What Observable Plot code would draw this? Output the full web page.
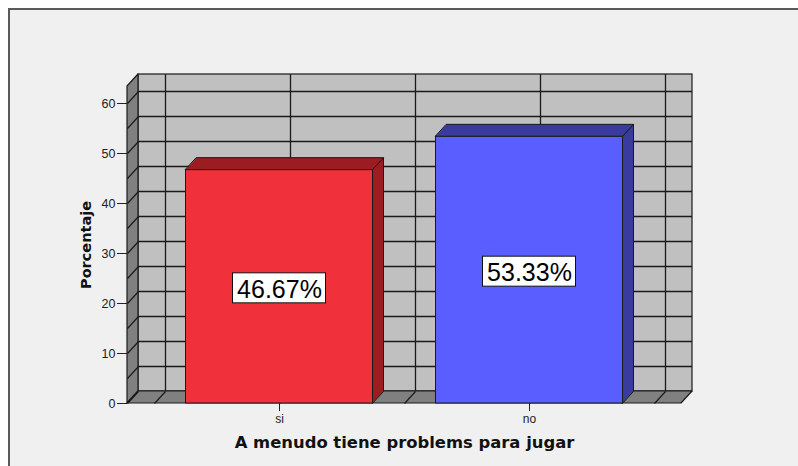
<!DOCTYPE html>
<html><head><meta charset="utf-8">
<script src="https://cdn.jsdelivr.net/npm/d3@7"></script>
<script src="https://cdn.jsdelivr.net/npm/@observablehq/plot@0.6"></script>
<style>
html,body{margin:0;padding:0;background:#fff;}
#wrap{position:relative;width:798px;height:466px;overflow:hidden;}
#panel{position:absolute;left:8px;top:8px;right:0;bottom:0;background:#f0f0f0;border-top:2px solid #5a5a5a;border-left:2px solid #5a5a5a;}
#chart{position:absolute;left:0;top:0;}
</style></head><body>
<div id="wrap"><div id="panel"></div><div id="chart"></div></div>
<script>
// ---- data ----
const categories = ["si", "no"];
const percentages = [46.67, 53.33];
const barColors = ["#f0303a", "#5b5eff"];
const barShades = ["#9b1d21", "#393c9e"];
const yTicks = [0, 10, 20, 30, 40, 50, 60];
const gridValues = [0, 5, 10, 15, 20, 25, 30, 35, 40, 45, 50, 55, 60];
const xTitle = "A menudo tiene problems para jugar";
const yTitle = "Porcentaje";

// ---- layout ----
const W = 798, H = 466;
const mL = 127, mR = 117, mT = 86, mB = 63;
const X0 = -0.608, X1 = 1.608;   // x domain (category index space)
const Y0 = 0, Y1 = 63.4;          // y domain
const kx = (W - mL - mR) / (X1 - X0);
const ky = (H - mT - mB) / (Y1 - Y0);
const DX = 11 / kx, DY = 12 / ky; // 3D depth in data units
const HW = 93.5 / kx;             // bar half width
const BW = 46.5 / kx, BH = 15 / ky; // label box half size
const vGrid = [-0.5, 0, 0.5, 1, 1.5];

const rows = categories.map((c, i) => ({i, c, v: percentages[i], color: barColors[i], shade: barShades[i]}));

function quad(key, fill, A, B, C, D) {
  return [
    {key, fill, x1: A[0], y1: A[1], x2: D[0], y2: D[1]},
    {key, fill, x1: B[0], y1: B[1], x2: C[0], y2: C[1]}
  ];
}
const walls = [
  ...quad("left", "#808080", [X0, 0], [X0, Y1], [X0 + DX, Y1 + DY], [X0 + DX, DY]),
  ...quad("floor", "#808080", [X0, 0], [X1, 0], [X1 + DX, DY], [X0 + DX, DY])
];
const sides = rows.flatMap(d => quad("side" + d.i, d.shade,
  [d.i + HW, 0], [d.i + HW, d.v], [d.i + HW + DX, d.v + DY], [d.i + HW + DX, DY]));
const tops = rows.flatMap(d => quad("top" + d.i, d.shade,
  [d.i - HW, d.v], [d.i + HW, d.v], [d.i + HW + DX, d.v + DY], [d.i - HW + DX, d.v + DY]));

const gridStroke = "#1a1a1a";
const chart = Plot.plot({
  width: W, height: H,
  marginLeft: mL, marginRight: mR, marginTop: mT, marginBottom: mB,
  x: {domain: [X0, X1]},
  y: {domain: [Y0, Y1]},
  color: {type: "identity"},
  style: {background: "transparent", fontFamily: "Liberation Sans, Arial, sans-serif", fontSize: "12px", overflow: "visible"},
  marks: [
    // back wall
    Plot.rect([0], {x1: X0 + DX, x2: X1 + DX, y1: DY, y2: Y1 + DY, fill: "#c0c0c0", stroke: gridStroke, strokeWidth: 1.2}),
    Plot.ruleY(gridValues, {y: v => v + DY, x1: X0 + DX, x2: X1 + DX, stroke: gridStroke, strokeWidth: 1.3}),
    Plot.ruleX(vGrid, {x: v => v + DX, y1: DY, y2: Y1 + DY, stroke: gridStroke, strokeWidth: 1.3}),
    // left wall and floor
    Plot.area(walls, {x1: "x1", y1: "y1", x2: "x2", y2: "y2", z: "key", fill: "fill", stroke: gridStroke, strokeWidth: 1.2}),
    Plot.link(gridValues, {x1: X0, y1: v => v, x2: X0 + DX, y2: v => v + DY, stroke: gridStroke, strokeWidth: 1.2}),
    Plot.link(vGrid, {x1: v => v, y1: 0, x2: v => v + DX, y2: DY, stroke: gridStroke, strokeWidth: 1.2}),
    // bars
    Plot.area(sides, {x1: "x1", y1: "y1", x2: "x2", y2: "y2", z: "key", fill: "fill", stroke: gridStroke, strokeWidth: 1}),
    Plot.area(tops, {x1: "x1", y1: "y1", x2: "x2", y2: "y2", z: "key", fill: "fill", stroke: gridStroke, strokeWidth: 1}),
    Plot.rect(rows, {x1: d => d.i - HW, x2: d => d.i + HW, y1: 0, y2: "v", fill: "color", stroke: gridStroke, strokeWidth: 1}),
    // value labels
    Plot.rect(rows, {x1: d => d.i - BW, x2: d => d.i + BW, y1: d => d.v / 2 - BH, y2: d => d.v / 2 + BH, fill: "white", stroke: "#111", strokeWidth: 1, dy: 1.5}),
    Plot.text(rows, {x: "i", y: d => d.v / 2, text: d => d.v.toFixed(2) + "%", fontSize: 25, fill: "#000", dy: 3}),
    // axes
    Plot.axisY(yTicks, {tickSize: 10, tickPadding: 2, fontSize: 12.5, color: "#222", label: null}),
    Plot.axisX([0, 1], {tickFormat: i => categories[i], tickSize: 8, tickPadding: 3, fontSize: 12, color: "#222", label: null}),
    // titles
    Plot.text([xTitle], {text: d => d, frameAnchor: "bottom", lineAnchor: "middle", textAnchor: "middle", dy: 39, fontFamily: "DejaVu Sans", fontWeight: "bold", fontSize: 16.4, fill: "#111"}),
    Plot.text([yTitle], {text: d => d, frameAnchor: "left", lineAnchor: "middle", textAnchor: "middle", dx: -41, dy: 0, rotate: -90, fontFamily: "DejaVu Sans", fontWeight: "bold", fontSize: 14.5, fill: "#111"})
  ]
});
document.getElementById("chart").appendChild(chart);
</script>
</body></html>
